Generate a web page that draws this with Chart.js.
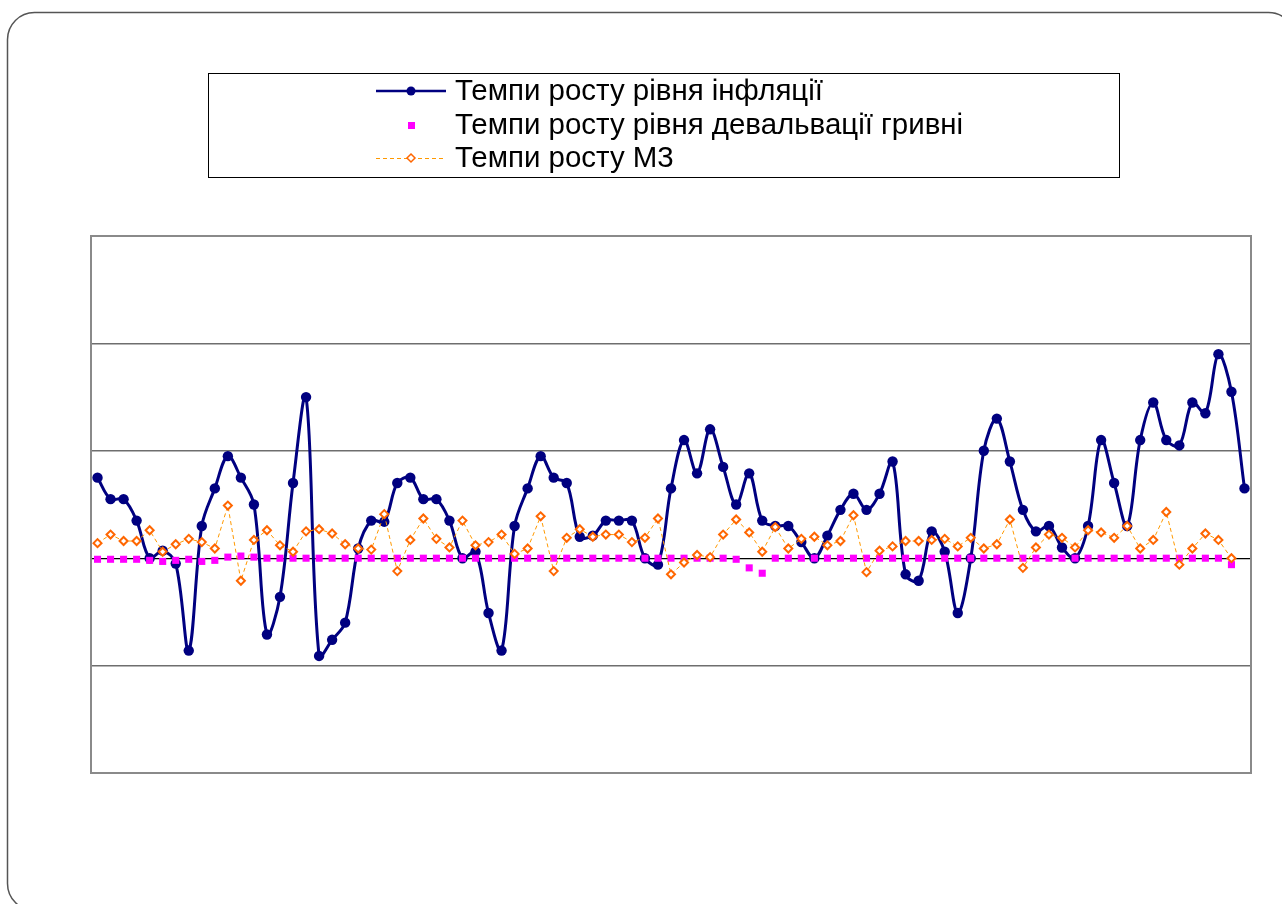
<!DOCTYPE html>
<html>
<head>
<meta charset="utf-8">
<script src="https://cdn.jsdelivr.net/npm/chart.js@4/dist/chart.umd.min.js"></script>
<style>
  html, body { margin: 0; padding: 0; background: #fff; }
  #wrap { width: 1282px; height: 904px; position: relative; }
</style>
</head>
<body>
<div id="wrap"><canvas id="c" width="1282" height="904"></canvas></div>
<script>
// Periods (months) along the horizontal axis
const periods = [
  1,2,3,4,5,6,7,8,9,10,11,12,13,14,15,16,17,18,19,20,
  21,22,23,24,25,26,27,28,29,30,31,32,33,34,35,36,37,38,39,40,
  41,42,43,44,45,46,47,48,49,50,51,52,53,54,55,56,57,58,59,60,
  61,62,63,64,65,66,67,68,69,70,71,72,73,74,75,76,77,78,79,80,
  81,82,83,84,85,86,87,88,89
];

const seriesNames = [
  'Темпи росту рівня інфляції',
  'Темпи росту рівня девальвації гривні',
  'Темпи росту М3'
];

// Inflation growth rate
const inflation = [
  0.75, 0.55, 0.55, 0.35, 0.00, 0.07, -0.05, -0.86, 0.30, 0.65,
  0.95, 0.75, 0.50, -0.71, -0.36, 0.70, 1.50, -0.91, -0.76, -0.60,
  0.09, 0.35, 0.34, 0.70, 0.75, 0.55, 0.55, 0.35, 0.00, 0.06,
  -0.51, -0.86, 0.30, 0.65, 0.95, 0.75, 0.70, 0.20, 0.21, 0.35,
  0.35, 0.35, 0.00, -0.06, 0.65, 1.10, 0.79, 1.20, 0.85, 0.50,
  0.79, 0.35, 0.30, 0.30, 0.15, 0.00, 0.21, 0.45, 0.60, 0.45,
  0.60, 0.90, -0.15, -0.21, 0.25, 0.06, -0.51, 0.00, 1.00, 1.30,
  0.90, 0.45, 0.25, 0.30, 0.10, 0.00, 0.30, 1.10, 0.70, 0.30,
  1.10, 1.45, 1.10, 1.05, 1.45, 1.35, 1.90, 1.55, 0.65
];

// Hryvnia devaluation growth rate
const devaluation = [
  -0.01, -0.01, -0.01, -0.01, -0.02, -0.03, -0.02, -0.01, -0.03, -0.02,
  0.01, 0.02, 0.01, 0.00, 0.00, 0.00, 0.00, 0.00, 0.00, 0.00,
  0.00, 0.00, 0.00, 0.00, 0.00, 0.00, 0.00, 0.00, 0.00, 0.00,
  0.00, 0.00, 0.00, 0.00, 0.00, 0.00, 0.00, 0.00, 0.00, 0.00,
  0.00, 0.00, 0.00, 0.00, 0.00, 0.00, 0.00, 0.00, 0.00, -0.01,
  -0.09, -0.14, 0.00, 0.00, 0.00, 0.00, 0.00, 0.00, 0.00, 0.00,
  0.00, 0.00, 0.00, 0.00, 0.00, 0.00, 0.00, 0.00, 0.00, 0.00,
  0.00, 0.00, 0.00, 0.00, 0.00, 0.00, 0.00, 0.00, 0.00, 0.00,
  0.00, 0.00, 0.00, 0.00, 0.00, 0.00, 0.00, -0.06, null
];

// M3 money supply growth rate
const m3 = [
  0.14, 0.22, 0.16, 0.16, 0.26, 0.06, 0.13, 0.18, 0.15, 0.09,
  0.49, -0.21, 0.17, 0.26, 0.12, 0.06, 0.25, 0.27, 0.23, 0.13,
  0.09, 0.08, 0.41, -0.12, 0.17, 0.37, 0.18, 0.10, 0.35, 0.12,
  0.15, 0.22, 0.04, 0.09, 0.39, -0.12, 0.19, 0.27, 0.20, 0.22,
  0.22, 0.15, 0.19, 0.37, -0.15, -0.04, 0.03, 0.01, 0.22, 0.36,
  0.24, 0.06, 0.29, 0.09, 0.18, 0.20, 0.12, 0.16, 0.40, -0.13,
  0.07, 0.11, 0.16, 0.16, 0.17, 0.18, 0.11, 0.19, 0.09, 0.13,
  0.36, -0.09, 0.10, 0.22, 0.19, 0.10, 0.26, 0.24, 0.19, 0.30,
  0.09, 0.17, 0.43, -0.06, 0.09, 0.23, 0.17, 0.00, null
];

const yTicks = [-2, -1, 0, 1, 2, 3];

const NAVY = '#000080';
const MAGENTA = '#FF00FF';
const ORANGE_MARK = '#FF6600';
const ORANGE_LINE = '#FF9900';
const FONT = '"Liberation Sans", Arial, sans-serif';

// Slide frame, plot border and the boxed legend
const decor = {
  id: 'decor',
  beforeDraw(chart) {
    const ctx = chart.ctx;
    ctx.save();
    ctx.fillStyle = '#fff';
    ctx.fillRect(0, 0, chart.width, chart.height);
    // rounded frame
    const x = 7.5, y = 12.5, w = 1288, h = 898, r = 27;
    ctx.beginPath();
    ctx.moveTo(x + r, y);
    ctx.lineTo(x + w - r, y);
    ctx.arcTo(x + w, y, x + w, y + r, r);
    ctx.lineTo(x + w, y + h - r);
    ctx.arcTo(x + w, y + h, x + w - r, y + h, r);
    ctx.lineTo(x + r, y + h);
    ctx.arcTo(x, y + h, x, y + h - r, r);
    ctx.lineTo(x, y + r);
    ctx.arcTo(x, y, x + r, y, r);
    ctx.closePath();
    ctx.strokeStyle = '#555';
    ctx.lineWidth = 1.5;
    ctx.stroke();
    ctx.restore();
  },
  beforeDatasetsDraw(chart) {
    const { ctx, chartArea: a } = chart;
    ctx.save();
    ctx.strokeStyle = '#8a8a8a';
    ctx.lineWidth = 2;
    ctx.strokeRect(a.left, a.top, a.right - a.left, a.bottom - a.top);
    ctx.restore();
  },
  afterDraw(chart) {
    const ctx = chart.ctx;
    ctx.save();
    // legend box
    ctx.strokeStyle = '#000';
    ctx.lineWidth = 1;
    ctx.strokeRect(208.5, 73.5, 911, 104);
    const rows = [91, 125, 158];
    const x0 = 376, x1 = 446, xm = 411;
    // inflation: solid line with round marker
    ctx.strokeStyle = NAVY;
    ctx.lineWidth = 2.5;
    ctx.beginPath(); ctx.moveTo(x0, rows[0]); ctx.lineTo(x1, rows[0]); ctx.stroke();
    ctx.fillStyle = NAVY;
    ctx.beginPath(); ctx.arc(xm, rows[0], 4.5, 0, Math.PI * 2); ctx.fill();
    // devaluation: square marker only
    ctx.fillStyle = MAGENTA;
    ctx.fillRect(xm - 3, rows[1] - 3, 7, 7);
    // M3: dashed line with hollow diamond
    ctx.strokeStyle = ORANGE_LINE;
    ctx.lineWidth = 1;
    ctx.setLineDash([4, 3]);
    ctx.beginPath(); ctx.moveTo(x0, rows[2] + 0.5); ctx.lineTo(x1, rows[2] + 0.5); ctx.stroke();
    ctx.setLineDash([]);
    ctx.fillStyle = '#fff';
    ctx.strokeStyle = ORANGE_MARK;
    ctx.lineWidth = 1.5;
    ctx.beginPath();
    ctx.moveTo(xm, rows[2] - 4); ctx.lineTo(xm + 4, rows[2]);
    ctx.lineTo(xm, rows[2] + 4); ctx.lineTo(xm - 4, rows[2]);
    ctx.closePath(); ctx.fill(); ctx.stroke();
    // labels, set slightly narrow and tall
    ctx.fillStyle = '#000';
    ctx.font = '30px ' + FONT;
    ctx.textBaseline = 'middle';
    ctx.textAlign = 'left';
    seriesNames.forEach((t, i) => {
      ctx.save();
      ctx.translate(455, rows[i] + 1);
      ctx.scale(0.982, 1);
      ctx.fillText(t, 0, 0);
      ctx.restore();
    });
    ctx.restore();
  }
};

new Chart(document.getElementById('c'), {
  type: 'line',
  data: {
    labels: periods,
    datasets: [
      {
        label: seriesNames[0],
        data: inflation,
        order: 3,
        borderColor: NAVY,
        backgroundColor: NAVY,
        borderWidth: 3,
        tension: 0.35,
        pointStyle: 'circle',
        pointRadius: 5.2,
        pointBorderWidth: 0,
        pointBackgroundColor: NAVY
      },
      {
        label: seriesNames[1],
        data: devaluation,
        order: 2,
        showLine: false,
        pointStyle: 'rect',
        pointRadius: 5,
        pointBorderWidth: 0,
        pointBackgroundColor: MAGENTA,
        borderColor: MAGENTA
      },
      {
        label: seriesNames[2],
        data: m3,
        order: 1,
        borderColor: ORANGE_LINE,
        borderWidth: 1,
        borderDash: [4, 3],
        tension: 0,
        pointStyle: 'rectRot',
        pointRadius: 4,
        pointBorderWidth: 2,
        pointBorderColor: ORANGE_MARK,
        pointBackgroundColor: '#fff'
      }
    ]
  },
  options: {
    responsive: false,
    animation: false,
    layout: { padding: { left: 91, top: 236, right: 31, bottom: 131 } },
    plugins: { legend: { display: false }, tooltip: { enabled: false } },
    scales: {
      x: {
        type: 'category',
        offset: true,
        grid: { display: false, drawTicks: false },
        border: { display: false },
        ticks: { display: false },
        afterFit(s) { s.height = 0; }
      },
      y: {
        min: yTicks[0],
        max: yTicks[yTicks.length - 1],
        afterBuildTicks(s) { s.ticks = yTicks.map(v => ({ value: v })); },
        grid: {
          drawTicks: false,
          color: ctx => (ctx.tick && ctx.tick.value === 0 ? '#000' : '#6e6e6e'),
          lineWidth: ctx => (ctx.tick && ctx.tick.value === 0 ? 1.2 : 1.5)
        },
        border: { display: false },
        ticks: { display: false },
        afterFit(s) { s.width = 0; }
      }
    }
  },
  plugins: [decor]
});
</script>
</body>
</html>
